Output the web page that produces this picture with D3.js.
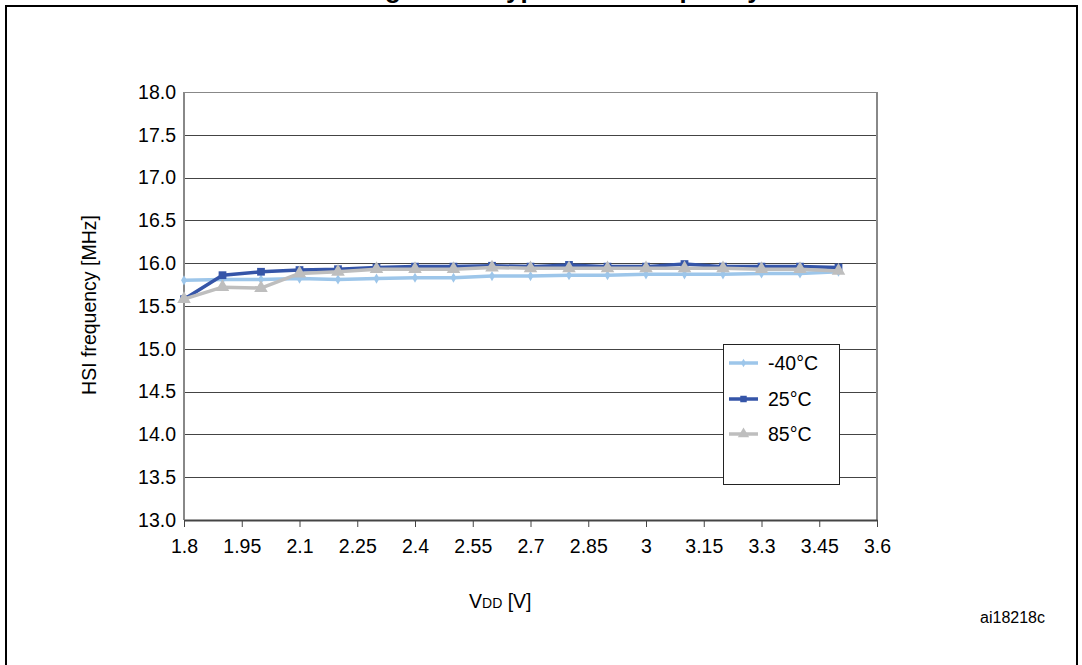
<!DOCTYPE html>
<html>
<head>
<meta charset="utf-8">
<script src="https://cdn.jsdelivr.net/npm/d3@7"></script>
<style>
  html, body { margin: 0; padding: 0; background: #fff; }
  svg { display: block; font-family: "Liberation Sans", Arial, sans-serif; }
</style>
</head>
<body>
<svg id="chart" width="1082" height="665"></svg>
<script>
// ---- data ----
const vdd = [1.8, 1.9, 2.0, 2.1, 2.2, 2.3, 2.4, 2.5, 2.6, 2.7, 2.8, 2.9, 3.0, 3.1, 3.2, 3.3, 3.4, 3.5];
const tempM40 = [15.80, 15.81, 15.81, 15.82, 15.81, 15.82, 15.83, 15.83, 15.85, 15.85, 15.86, 15.86, 15.87, 15.87, 15.87, 15.88, 15.88, 15.90];
const temp25  = [15.58, 15.86, 15.90, 15.92, 15.93, 15.95, 15.96, 15.96, 15.97, 15.96, 15.98, 15.96, 15.96, 15.99, 15.96, 15.96, 15.96, 15.95];
const temp85  = [15.58, 15.72, 15.71, 15.88, 15.90, 15.93, 15.93, 15.93, 15.95, 15.94, 15.94, 15.94, 15.94, 15.94, 15.94, 15.93, 15.93, 15.91];
const seriesNames = ["-40°C", "25°C", "85°C"];
const xTicks = [1.8, 1.95, 2.1, 2.25, 2.4, 2.55, 2.7, 2.85, 3, 3.15, 3.3, 3.45, 3.6];
const yTicks = [13.0, 13.5, 14.0, 14.5, 15.0, 15.5, 16.0, 16.5, 17.0, 17.5, 18.0];
const titleText = "Figure 17. Typical HSI frequency vs. V";
const titleSub = "DD";
const yTitle = "HSI frequency [MHz]";
const figId = "ai18218c";

// ---- layout ----
const svg = d3.select("#chart");
const L = 184, R = 877, T = 92, B = 520;
const x = d3.scaleLinear().domain([1.8, 3.6]).range([L, R]);
const y = d3.scaleLinear().domain([13, 18]).range([B, T]);
const FS = 19.5;

const colors = ["#9DC6EA", "#3555A8", "#BEBEBE"];
const symbols = [d3.symbolDiamond, d3.symbolSquare, d3.symbolTriangle];
const symSizes = [30, 60, 80];
const data = [tempM40, temp25, temp85];

// outer frame
svg.append("rect").attr("x", 6).attr("y", 6).attr("width", 1071).attr("height", 700)
  .attr("fill", "none").attr("stroke", "#000").attr("stroke-width", 2);

// clipped title (only descenders visible, as in the reference)
const tt = svg.append("text").attr("x", 362).attr("y", -2.5)
  .attr("font-size", 26).attr("font-weight", "bold").attr("fill", "#000");
tt.append("tspan").text(titleText);
tt.append("tspan").attr("font-size", 18).text(titleSub);

// gridlines
svg.append("g").selectAll("line").data(yTicks).join("line")
  .attr("x1", L).attr("x2", R)
  .attr("y1", d => Math.round(y(d)) + 0.5).attr("y2", d => Math.round(y(d)) + 0.5)
  .attr("stroke", d => d === 18 ? "#888" : "#444").attr("stroke-width", 1);

// side borders
svg.append("line").attr("x1", L).attr("x2", L).attr("y1", T).attr("y2", B)
  .attr("stroke", "#888").attr("stroke-width", 2);
svg.append("line").attr("x1", R).attr("x2", R).attr("y1", T).attr("y2", B)
  .attr("stroke", "#888").attr("stroke-width", 2);

// x axis
const xAxis = svg.append("g").attr("transform", `translate(0,${B})`)
  .call(d3.axisBottom(x).tickValues(xTicks).tickSize(7).tickSizeOuter(0)
    .tickFormat(d => String(+d.toFixed(2))));
xAxis.select(".domain").attr("stroke", "#444").attr("stroke-width", 2);
xAxis.selectAll(".tick line").attr("stroke", "#444");
xAxis.selectAll(".tick text").attr("font-size", FS).attr("fill", "#000")
  .attr("font-family", "Liberation Sans, Arial, sans-serif").attr("dy", "1.2em");

// y axis labels
const yAxis = svg.append("g").attr("transform", `translate(${L},0)`)
  .call(d3.axisLeft(y).tickValues(yTicks).tickSize(0).tickPadding(8).tickFormat(d3.format(".1f")));
yAxis.select(".domain").remove();
yAxis.selectAll(".tick text").attr("font-size", FS).attr("fill", "#000")
  .attr("font-family", "Liberation Sans, Arial, sans-serif");

// series
const line = d3.line().x((d, i) => x(vdd[i])).y(d => y(d));
data.forEach((vals, si) => {
  const g = svg.append("g");
  g.append("path").datum(vals).attr("d", line).attr("fill", "none")
    .attr("stroke", colors[si]).attr("stroke-width", 3.5).attr("stroke-linejoin", "round");
  g.selectAll("path.m").data(vals).join("path").attr("class", "m")
    .attr("transform", (d, i) => `translate(${x(vdd[i])},${y(d)})`)
    .attr("d", d3.symbol().type(symbols[si]).size(symSizes[si]))
    .attr("fill", colors[si]);
});

// legend
const lg = svg.append("g");
lg.append("rect").attr("x", 723.5).attr("y", 344.5).attr("width", 116).attr("height", 140)
  .attr("fill", "#fff").attr("stroke", "#222").attr("stroke-width", 1);
const legY = [363, 399, 434];
seriesNames.forEach((name, i) => {
  lg.append("line").attr("x1", 729).attr("x2", 758).attr("y1", legY[i]).attr("y2", legY[i])
    .attr("stroke", colors[i]).attr("stroke-width", 3.5);
  lg.append("path").attr("transform", `translate(743.5,${legY[i]})`)
    .attr("d", d3.symbol().type(symbols[i]).size(symSizes[i] * 0.7)).attr("fill", colors[i]);
  lg.append("text").attr("x", 768).attr("y", legY[i] + 7).attr("font-size", FS).text(name);
});

// axis titles
const xt = svg.append("text").attr("x", 469).attr("y", 608).attr("font-size", FS);
xt.append("tspan").text("V");
xt.append("tspan").attr("font-size", 14).text("DD");
xt.append("tspan").text(" [V]");

svg.append("text").attr("transform", `translate(96,305) rotate(-90)`)
  .attr("text-anchor", "middle").attr("font-size", FS).text(yTitle);

svg.append("text").attr("x", 1045).attr("y", 623).attr("text-anchor", "end")
  .attr("font-size", 16).text(figId);
</script>
</body>
</html>
